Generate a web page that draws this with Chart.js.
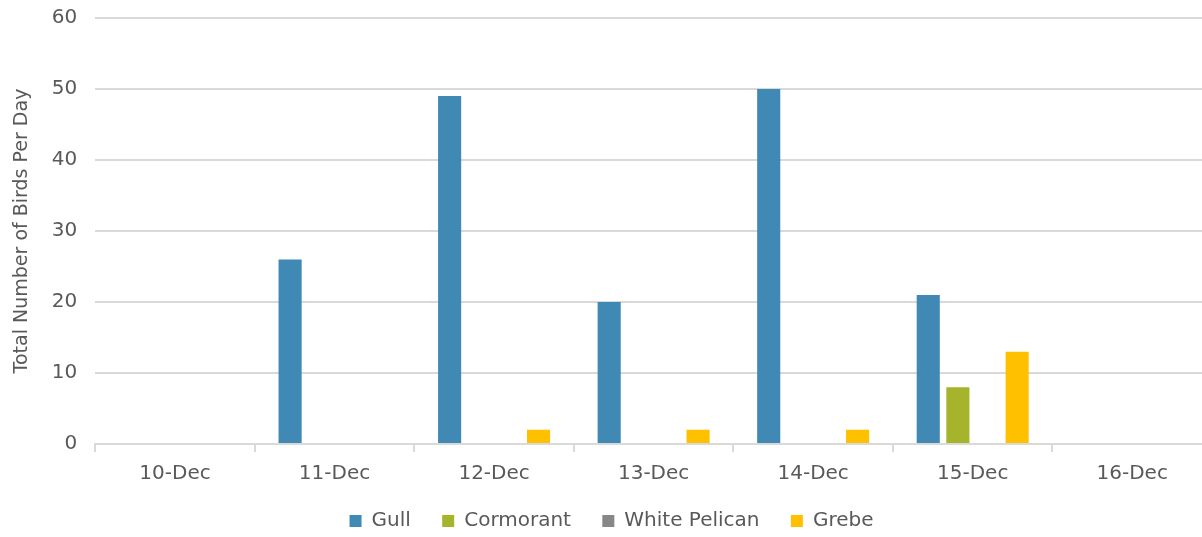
<!DOCTYPE html>
<html>
<head>
<meta charset="utf-8">
<script src="https://cdn.jsdelivr.net/npm/chart.js@4"></script>
<style>
  html, body { margin: 0; padding: 0; background: #fff; overflow: hidden; }
  #wrap { width: 1202px; height: 537px; position: relative; overflow: hidden; }
  #inner { position: absolute; left: 0; top: -12px; width: 1214px; height: 553px; }
</style>
</head>
<body>
<div id="wrap"><div id="inner"><canvas id="myChart"></canvas></div></div>
<script>
var days = ["10-Dec", "11-Dec", "12-Dec", "13-Dec", "14-Dec", "15-Dec", "16-Dec"];
var gull = [0, 26, 49, 20, 50, 21, 0];
var cormorant = [0, 0, 0, 0, 0, 8, 0];
var whitePelican = [0, 0, 0, 0, 0, 0, 0];
var grebe = [0, 0, 2, 2, 2, 13, 0];
var yTicks = [0, 10, 20, 30, 40, 50, 60];

var font = "'DejaVu Sans', sans-serif";
var grey = "#595959";

// extra gap between legend entries
function legendLabels(chart) {
  var items = Chart.defaults.plugins.legend.labels.generateLabels(chart);
  items.forEach(function(item, i) {
    if (i < items.length - 1) item.text = item.text + "\u2002 ";
  });
  return items;
}

ctx = document.getElementById("myChart");
var myChart = new Chart(ctx, {
  type: "bar",
  data: {
    labels: days,
    datasets: [
      { label: "Gull", data: gull, backgroundColor: "#3F89B4" },
      { label: "Cormorant", data: cormorant, backgroundColor: "#A5B42A" },
      { label: "White Pelican", data: whitePelican, backgroundColor: "#878787" },
      { label: "Grebe", data: grebe, backgroundColor: "#FFC000" }
    ]
  },
  options: {
    responsive: true,
    maintainAspectRatio: false,
    animation: false,
    layout: { padding: { left: 11, right: 2, top: 0, bottom: 0 } },
    datasets: { bar: { categoryPercentage: 0.743, barPercentage: 0.78 } },
    plugins: {
      tooltip: { enabled: false },
      legend: {
        position: "bottom",
        labels: {
          font: { family: font, size: 20 },
          color: grey,
          boxWidth: 12,
          boxHeight: 12,
          padding: 15,
          generateLabels: legendLabels
        }
      }
    },
    scales: {
      x: {
        grid: { drawOnChartArea: false, offset: true, tickLength: 8, color: "#d9d9d9", lineWidth: 2 },
        border: { color: "#d9d9d9", width: 2 },
        ticks: { font: { family: font, size: 20 }, color: grey, padding: 10 }
      },
      y: {
        min: 0,
        max: 60,
        afterBuildTicks: function(axis) {
          axis.ticks = yTicks.map(function(v) { return { value: v }; });
        },
        grid: { color: "#d9d9d9", lineWidth: 2, drawTicks: false },
        border: { display: false },
        ticks: { font: { family: font, size: 20 }, color: grey, padding: 18 },
        title: {
          display: true,
          text: "Total Number of Birds Per Day",
          font: { family: font, size: 19 },
          color: grey,
          padding: { top: 0, bottom: 0 }
        }
      }
    }
  }
});
</script>
</body>
</html>
